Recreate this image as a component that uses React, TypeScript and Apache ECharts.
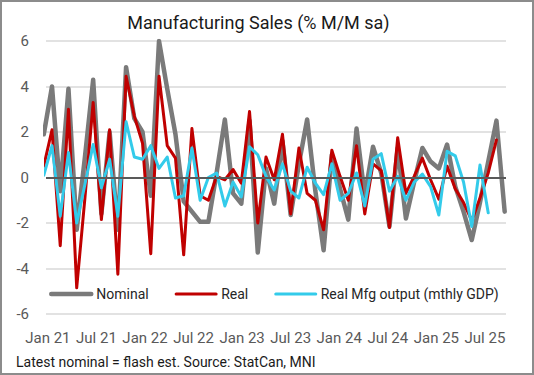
import React, { useEffect, useRef } from 'react';
import * as echarts from 'echarts';

// Months: Dec 2020 (partly clipped at the left edge) .. Aug 2025
const monthNames = ['Jan', 'Feb', 'Mar', 'Apr', 'May', 'Jun', 'Jul', 'Aug', 'Sep', 'Oct', 'Nov', 'Dec'];
const months: string[] = ['Dec 2020'];
for (let y = 2021; y <= 2025; y++) {
  for (let m = 0; m < 12; m++) {
    if (y === 2025 && m > 7) break;
    months.push(monthNames[m] + ' ' + y);
  }
}

const nominal = [
  1.9, 4.0, -0.6, 3.9, -2.3, 0.9, 4.3, -1.6, 2.0, -2.3, 4.85, 2.6, 2.0,
  -0.8, 6.0, 3.9, 1.9, -1.05, -1.5, -1.95, -1.95, 0.2, 2.55, -0.7, -1.15,
  2.5, -3.3, 0.4, -1.15, 1.6, -1.65, 0.6, 2.55, -0.6, -3.2, 1.0, -0.5,
  -1.85, 2.15, -0.8, 1.35, 0.2, -2.15, 1.3, -1.8, -0.2, 1.3, 0.7, 0.4,
  1.45, -0.4, -1.5, -2.75, -1.1, 0.7, 2.5, -1.5,
];
const real = [
  0.5, 2.1, -3.0, 3.0, -4.85, -0.9, 3.3, -1.85, 2.1, -4.25, 4.45, 2.7, 1.5,
  -3.35, 4.45, 1.4, 0.85, -3.4, 2.15, -0.8, -1.0, 0.05, -0.1, 0.35, -0.25,
  2.9, -2.0, 0.9, -0.1, 1.9, -1.6, 1.3, -0.7, -1.0, -2.3, 1.2, 0.05,
  -1.0, 1.4, -1.6, 0.6, 0.3, -2.2, 1.75, -0.7, 0.05, 0.85, -0.1, -0.95,
  0.5, -0.5, -1.1, -1.9, -0.9, 0.2, 1.65, null,
];
const mfgGdp = [
  0.1, 1.4, -1.7, 1.1, -2.0, -0.3, 1.45, -0.45, 0.8, -1.7, 2.45, 0.9, 0.8,
  1.4, 0.4, 0.9, -0.9, -0.8, 1.3, -1.0, 0.0, 0.2, -1.25, -0.2, -0.85,
  1.35, 1.0, 0.05, -0.55, 0.6, -0.6, -0.9, 0.45, -0.25, -0.75, 0.6, -1.0,
  -0.7, 0.2, -1.25, 0.8, 1.05, -0.6, 0.05, -1.0, -0.2, 0.15, -0.4, -1.65,
  1.15, 0.95, -0.2, -2.15, 0.55, -1.55, null, null,
];
const tickLabels = ['Jan 21', 'Jul 21', 'Jan 22', 'Jul 22', 'Jan 23', 'Jul 23', 'Jan 24', 'Jul 24', 'Jan 25', 'Jul 25'];

const FONT = 'Roboto, "Noto Sans", sans-serif';
const GRAY = '#7a7a7a';
const RED = '#c00000';
const CYAN = '#33cbea';
// x is measured in months from Jan 2021
const XMIN = -0.73;
const XMAX = 55.16;
const LABEL_START = -0.5;
const LABEL_STEP = 5.9;
const labelPos = tickLabels.map((_, i) => +(LABEL_START + i * LABEL_STEP).toFixed(3));

const toPoints = (arr: (number | null)[]) =>
  arr.map((v, i) => [i - 1, v]).filter((p) => p[1] !== null);

export default function App() {
  const ref = useRef<HTMLDivElement>(null);
  useEffect(() => {
    const chart = echarts.init(ref.current!, null, { renderer: 'svg' });
    const lineBase = {
      type: 'line',
      symbol: 'none',
      showSymbol: false,
      clip: true,
      connectNulls: false,
    };
    chart.setOption({
      animation: false,
      backgroundColor: '#ffffff',
      grid: { left: 46, right: 28, top: 41, bottom: 61, containLabel: false },
      xAxis: {
        type: 'value',
        min: XMIN,
        max: XMAX,
        splitLine: { show: false },
        axisLine: { show: false, onZero: false },
        axisTick: { show: false },
        axisLabel: {
          customValues: labelPos,
          formatter: (v: number) => {
            const i = labelPos.findIndex((p) => Math.abs(p - v) < 0.01);
            return i >= 0 ? tickLabels[i] : '';
          },
          color: '#595959',
          fontSize: 15,
          fontFamily: FONT,
          margin: 16,
        },
      },
      yAxis: {
        type: 'value',
        min: -6,
        max: 6,
        interval: 2,
        axisLine: { show: false },
        axisTick: { show: false },
        axisLabel: { color: '#595959', fontSize: 15, fontFamily: FONT, margin: 17 },
        splitLine: { lineStyle: { color: '#d9d9d9', width: 1.5 } },
      },
      legend: {
        left: 49,
        top: 287,
        padding: 0,
        itemWidth: 40,
        itemHeight: 14,
        itemGap: 26,
        itemStyle: { opacity: 0 },
        textStyle: { fontSize: 14, color: '#262626', fontFamily: FONT },
        data: [
          { name: 'Nominal', lineStyle: { width: 4.5, color: GRAY, cap: 'round' } },
          { name: 'Real', lineStyle: { width: 3, color: RED, cap: 'round' } },
          { name: 'Real Mfg output (mthly GDP)', lineStyle: { width: 3, color: CYAN, cap: 'round' } },
        ],
      },
      series: [
        {
          ...lineBase,
          name: 'Nominal',
          data: toPoints(nominal),
          lineStyle: { color: GRAY, width: 4.5, join: 'round', cap: 'round' },
          itemStyle: { color: GRAY },
          markLine: {
            silent: true,
            symbol: 'none',
            label: { show: false },
            lineStyle: { color: '#595959', width: 1.8, type: 'solid' },
            data: [{ yAxis: 0 }],
          },
        },
        {
          ...lineBase,
          name: 'Real',
          data: toPoints(real),
          lineStyle: { color: RED, width: 3, join: 'round', cap: 'round' },
          itemStyle: { color: RED },
        },
        {
          ...lineBase,
          name: 'Real Mfg output (mthly GDP)',
          data: toPoints(mfgGdp),
          lineStyle: { color: CYAN, width: 3, join: 'round', cap: 'round' },
          itemStyle: { color: CYAN },
        },
      ],
      graphic: [
        {
          type: 'text',
          x: 258.5,
          y: 22,
          style: {
            text: 'Manufacturing Sales (% M/M sa)',
            align: 'center',
            verticalAlign: 'middle',
            textAlign: 'center',
            textVerticalAlign: 'middle',
            fontSize: 18,
            fontFamily: FONT,
            fill: '#1a1a1a',
          },
        },
        {
          type: 'text',
          x: 16,
          y: 362,
          style: {
            text: 'Latest nominal = flash est. Source: StatCan, MNI',
            align: 'left',
            verticalAlign: 'middle',
            textAlign: 'left',
            textVerticalAlign: 'middle',
            fontSize: 14,
            fontFamily: FONT,
            fill: '#1a1a1a',
          },
        },
        {
          type: 'rect',
          silent: true,
          z: 100,
          shape: { x: 1, y: 1, width: 532, height: 373 },
          style: { fill: 'none', stroke: '#8c8c8c', lineWidth: 2 },
        },
      ],
    });
    return () => chart.dispose();
  }, []);
  return (
    <div
      ref={ref}
      style={{ position: 'absolute', left: 0, top: 0, width: 534, height: 375, background: '#fff' }}
    />
  );
}
